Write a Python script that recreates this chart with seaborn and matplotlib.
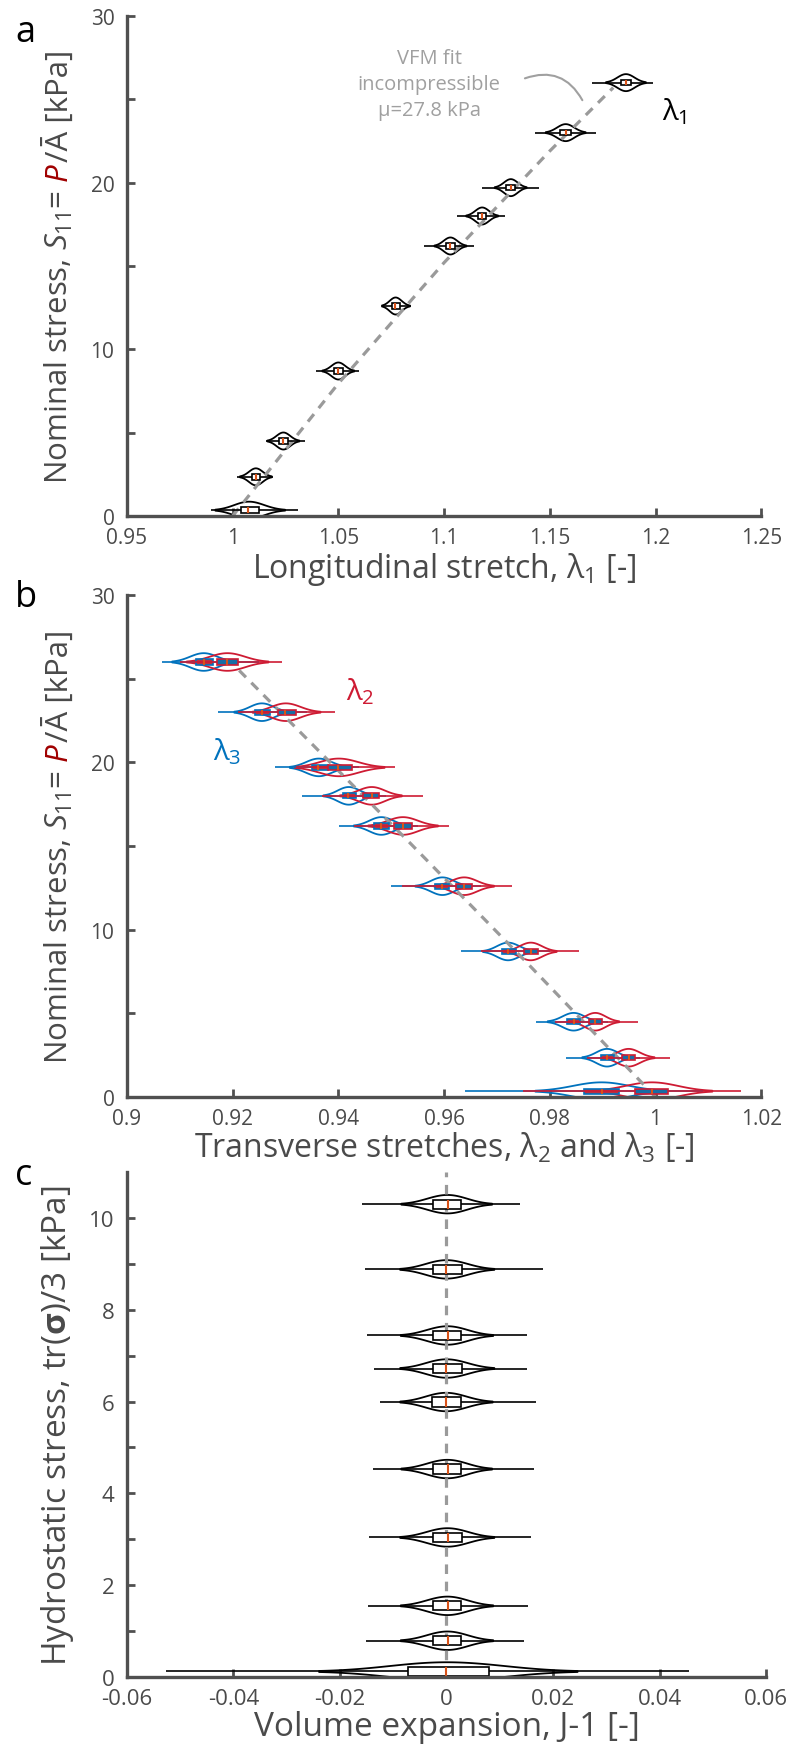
import numpy as np
import pandas as pd
import matplotlib.pyplot as plt
import matplotlib.transforms as mtransforms
from matplotlib.ticker import FuncFormatter
import seaborn as sns

# stress levels shared by panels a and b [kPa]
stress_ab = [0.35, 2.35, 4.5, 8.7, 12.6, 16.2, 18.0, 19.7, 23.0, 26.0]

# panel a: longitudinal stretch lambda_1 (min, q1, median, q3, max per level)
l1_lo = [0.990, 1.002, 1.016, 1.0396, 1.0705, 1.0906, 1.106, 1.118, 1.143, 1.170]
l1_q1 = [1.004, 1.009, 1.022, 1.048, 1.0755, 1.101, 1.116, 1.1295, 1.155, 1.1835]
l1_md = [1.0075, 1.011, 1.024, 1.050, 1.077, 1.103, 1.118, 1.1316, 1.1575, 1.186]
l1_q3 = [1.0127, 1.013, 1.026, 1.052, 1.079, 1.105, 1.120, 1.1335, 1.160, 1.1885]
l1_hi = [1.031, 1.0193, 1.0344, 1.060, 1.0845, 1.114, 1.129, 1.145, 1.172, 1.199]

# panel b: transverse stretches lambda_2 (red) and lambda_3 (blue)
l2_lo = [0.975, 0.987, 0.981, 0.967, 0.952, 0.943, 0.937, 0.932, 0.921, 0.910]
l2_q1 = [0.9962, 0.9936, 0.9874, 0.9751, 0.9623, 0.9505, 0.9446, 0.938, 0.9285, 0.917]
l2_md = [0.9993, 0.9949, 0.9886, 0.9764, 0.9638, 0.9522, 0.9464, 0.940, 0.930, 0.919]
l2_q3 = [1.0023, 0.9962, 0.9898, 0.9777, 0.9653, 0.954, 0.9477, 0.9425, 0.9319, 0.9211]
l2_hi = [1.0162, 1.0028, 0.9966, 0.9855, 0.9728, 0.961, 0.956, 0.9507, 0.9394, 0.9294]

l3_lo = [0.964, 0.983, 0.9774, 0.9632, 0.950, 0.9402, 0.9332, 0.928, 0.9172, 0.9066]
l3_q1 = [0.9864, 0.9896, 0.9832, 0.971, 0.9583, 0.9468, 0.9408, 0.935, 0.9242, 0.913]
l3_md = [0.9898, 0.9908, 0.9845, 0.972, 0.9597, 0.9481, 0.9419, 0.9362, 0.9255, 0.9145]
l3_q3 = [0.993, 0.9921, 0.9858, 0.9736, 0.961, 0.9496, 0.9434, 0.938, 0.927, 0.9162]
l3_hi = [1.009, 0.997, 0.991, 0.980, 0.967, 0.955, 0.949, 0.944, 0.934, 0.925]

# VFM fit (incompressible, mu = 27.8 kPa)
fit_l1 = [1.0, 1.05, 1.10, 1.15, 1.18]
fit_lt = [1.0, 0.9759, 0.9535, 0.9325, 0.9206]
fit_s = [0.0, 7.95, 15.2, 21.9, 25.7]

# panel c: hydrostatic stress levels and volume expansion J-1
stress_c = [0.12, 0.79, 1.55, 3.04, 4.53, 5.99, 6.72, 7.44, 8.88, 10.3]
j_lo = [-0.0527, -0.0151, -0.0148, -0.0146, -0.0138, -0.0125, -0.0136, -0.0150, -0.0152, -0.0158]
j_q1 = [-0.0072, -0.0026, -0.0026, -0.0026, -0.0026, -0.0027, -0.0026, -0.0026, -0.0026, -0.0026]
j_md = [0.0, 0.0002, 0.0002, 0.0002, 0.0002, -0.0001, 0.0, 0.0002, 0.0, 0.0002]
j_q3 = [0.0079, 0.0028, 0.0028, 0.0029, 0.0027, 0.0027, 0.0029, 0.0028, 0.0029, 0.0027]
j_hi = [0.0456, 0.0145, 0.0153, 0.0158, 0.0164, 0.0168, 0.0151, 0.0151, 0.0181, 0.0138]
null_x = [0.0, 0.0]
null_y = [0.0, 11.0]

BLUE = "#0072BD"
RED = "#CE1B33"
ORANGE = "#D95319"
AXGRAY = "#505050"
TXTGRAY = "#4a4a4a"
FITGRAY = "#9a9a9a"

sns.set_style("ticks")
plt.rcParams["font.family"] = ["Open Sans", "DejaVu Sans"]
plt.rcParams["mathtext.fontset"] = "custom"
plt.rcParams["mathtext.rm"] = "Open Sans"
plt.rcParams["mathtext.it"] = "Open Sans:italic"
plt.rcParams["mathtext.bf"] = "Open Sans:bold"


def frames(levels, lo, q1, md, q3, hi):
    # violin body from the inner values, box/whiskers from the full summary
    vrows, brows = [], []
    for s, a, b, m, c, d in zip(levels, lo, q1, md, q3, hi):
        vrows += [(s, v) for v in (b, b, m, m, m, c, c)]
        brows += [(s, v) for v in (a, b, b, m, m, m, c, c, d)]
    cols = ["stress", "val"]
    return pd.DataFrame(vrows, columns=cols), pd.DataFrame(brows, columns=cols)


def violins(ax, vdf, bdf, line, face, vwidth, bwidth, bw=2.5):
    sns.violinplot(data=vdf, x="val", y="stress", orient="h", native_scale=True,
                   fill=False, inner=None, cut=2, bw_adjust=bw, density_norm="width",
                   width=vwidth, color=line, linewidth=1.3, ax=ax)
    sns.boxplot(data=bdf, x="val", y="stress", orient="h", native_scale=True,
                whis=(0, 100), width=bwidth, showcaps=False, fliersize=0,
                color=face, linecolor=line, linewidth=1.2,
                medianprops=dict(color=ORANGE, linewidth=1.5), ax=ax)


def style_axis(ax, xlim, xticks, ylim, yticks, yminor, fs):
    sns.despine(ax=ax)
    ax.set_xlim(*xlim)
    ax.set_ylim(*ylim)
    ax.set_xticks(xticks)
    ax.set_yticks(yticks)
    ax.set_yticks(yminor, minor=True)
    fmt = FuncFormatter(lambda v, p: f"{v:g}")
    ax.xaxis.set_major_formatter(fmt)
    ax.yaxis.set_major_formatter(fmt)
    for sp in ("left", "bottom"):
        ax.spines[sp].set_linewidth(2.4)
        ax.spines[sp].set_color(AXGRAY)
    ax.tick_params(which="both", direction="in", length=6, width=2, color=AXGRAY,
                   labelcolor=TXTGRAY, labelsize=fs)
    ax.tick_params(axis="x", pad=8)
    ax.tick_params(axis="y", pad=9)
    ax.set_ylabel("")


fig = plt.figure(figsize=(7.93, 17.49), dpi=100)
ax_a = fig.add_axes([0.160, 0.7044, 0.800, 0.2859])
ax_b = fig.add_axes([0.160, 0.3722, 0.800, 0.2870])
ax_c = fig.add_axes([0.160, 0.0406, 0.806, 0.2887])

# ---- panel a
sns.lineplot(x=fit_l1, y=fit_s, sort=False, estimator=None, color=FITGRAY,
             lw=2.3, ls=(0, (3, 2.4)), ax=ax_a)
va, ba = frames(stress_ab, l1_lo, l1_q1, l1_md, l1_q3, l1_hi)
violins(ax_a, va, ba, "black", "white", 0.6, 0.2)
style_axis(ax_a, (0.95, 1.25), [0.95, 1.0, 1.05, 1.1, 1.15, 1.2, 1.25],
           (0, 30), [0, 10, 20, 30], [5, 15, 25], 15)
ax_a.set_xlabel(r"Longitudinal stretch, $\mathregular{λ_1}$ [-]", fontsize=23,
                color=TXTGRAY, labelpad=1)
ax_a.text(1.093, 25.9, "VFM fit\nincompressible\nμ=27.8 kPa", ha="center", va="center",
          fontsize=14.5, color="#a0a0a0", linespacing=1.4)
ax_a.annotate("", xy=(1.166, 24.8), xytext=(1.137, 26.2),
              arrowprops=dict(arrowstyle="-", color="#a0a0a0", lw=1.5,
                              connectionstyle="arc3,rad=-0.45"))
ax_a.text(1.203, 23.8, r"$\mathregular{λ_1}$", fontsize=21, color="black", va="baseline")

# ---- panel b
sns.lineplot(x=fit_lt, y=fit_s, sort=False, estimator=None, color=FITGRAY,
             lw=2.3, ls=(0, (3, 2.4)), ax=ax_b)
v3, b3 = frames(stress_ab, l3_lo, l3_q1, l3_md, l3_q3, l3_hi)
v2, b2 = frames(stress_ab, l2_lo, l2_q1, l2_md, l2_q3, l2_hi)
violins(ax_b, v3, b3, BLUE, RED, 0.62, 0.18)
violins(ax_b, v2, b2, RED, BLUE, 0.62, 0.18)
style_axis(ax_b, (0.9, 1.02), [0.9, 0.92, 0.94, 0.96, 0.98, 1.0, 1.02],
           (0, 30), [0, 10, 20, 30], [5, 15, 25], 15)
ax_b.set_xlabel(r"Transverse stretches, $\mathregular{λ_2}$ and $\mathregular{λ_3}$ [-]",
                fontsize=23, color=TXTGRAY, labelpad=1)
ax_b.text(0.9415, 23.8, r"$\mathregular{λ_2}$", fontsize=21, color=RED, va="baseline")
ax_b.text(0.9162, 20.2, r"$\mathregular{λ_3}$", fontsize=21, color=BLUE, va="baseline")

# ---- panel c
sns.lineplot(x=null_x, y=null_y, sort=False, estimator=None, orient="y", color=FITGRAY,
             lw=2.3, ls=(0, (3, 2.4)), ax=ax_c)
vc, bc = frames(stress_c, j_lo, j_q1, j_md, j_q3, j_hi)
violins(ax_c, vc, bc, "black", "white", 0.6, 0.3, bw=2.0)
style_axis(ax_c, (-0.06, 0.06), [-0.06, -0.04, -0.02, 0, 0.02, 0.04, 0.06],
           (0, 11), [0, 2, 4, 6, 8, 10], [1, 3, 5, 7, 9], 16)
ax_c.set_xlabel("Volume expansion, J-1 [-]", fontsize=24, color=TXTGRAY, labelpad=1)


def stacked_ylabel(ax, pieces, x_px=68, size=22.5):
    renderer = fig.canvas.get_renderer()
    bb = ax.get_position()
    yc = (bb.y0 + bb.y1) / 2 * fig.bbox.height
    items = []
    for s, c, gap in pieces:
        t = fig.text(0, 0, s, color=c, fontsize=size, rotation=90, rotation_mode="anchor",
                     ha="left", va="baseline", transform=mtransforms.IdentityTransform())
        items.append((t, gap, t.get_window_extent(renderer).height))
    total = sum(g + h for _, g, h in items)
    y = yc - total / 2
    for t, g, h in items:
        y += g
        t.set_position((x_px, y))
        y += h


nominal = [(r"Nominal stress, $\mathit{S}_{11}$=", TXTGRAY, 0),
           (r"$\mathit{P}$", "#A00000", 7),
           ("/Ā [kPa]", TXTGRAY, 1)]
stacked_ylabel(ax_a, nominal)
stacked_ylabel(ax_b, nominal)
stacked_ylabel(ax_c, [(r"Hydrostatic stress, tr($\mathbf{σ}$)/3 [kPa]", TXTGRAY, 0)],
               x_px=66, size=24)

for lab, yb in (("a", 42), ("b", 607), ("c", 1185)):
    fig.text(15 / 793, 1 - yb / 1749, lab, fontsize=26, color="black", va="baseline")

fig.savefig("out.png", dpi=100)
